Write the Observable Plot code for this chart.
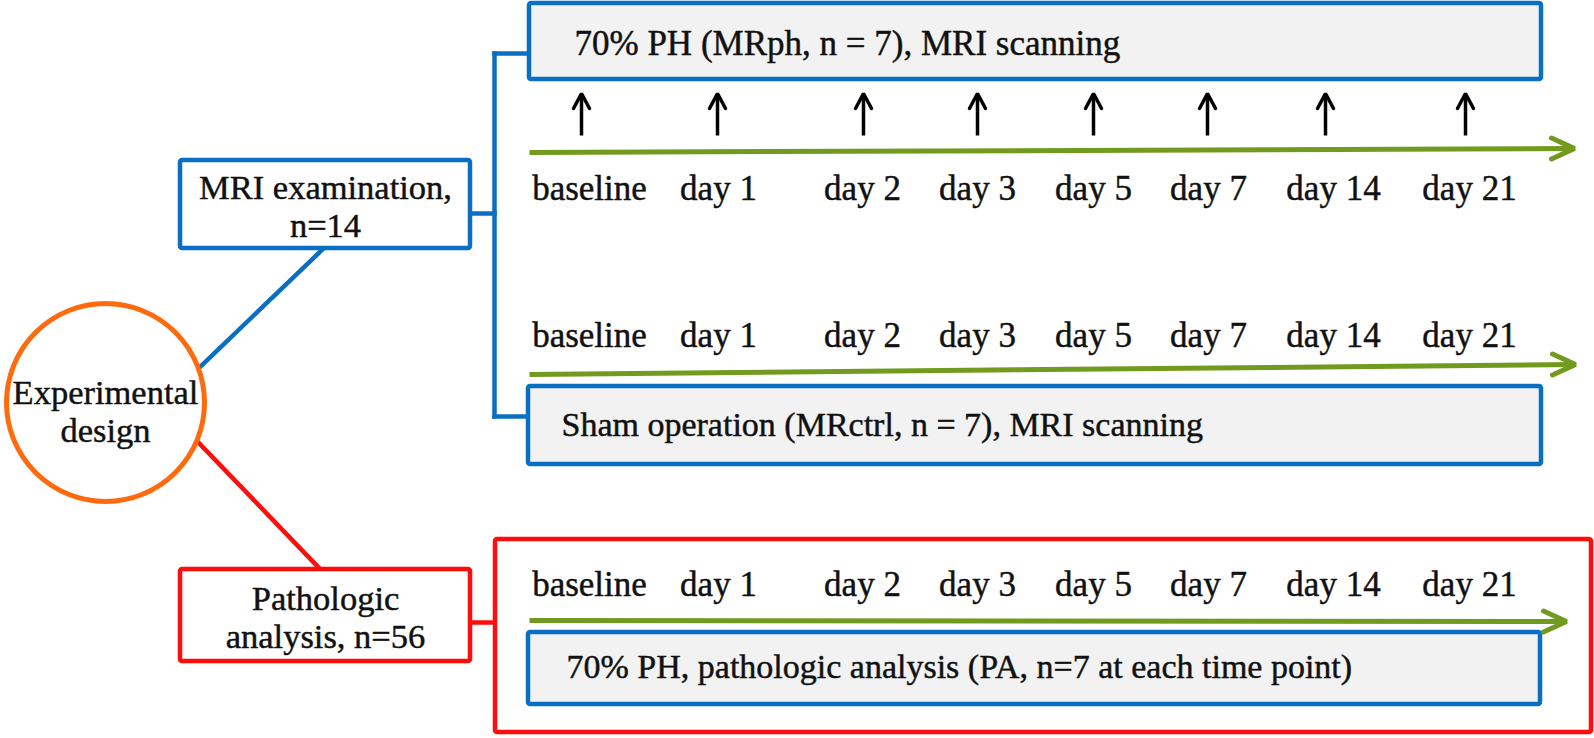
<!DOCTYPE html>
<html><head><meta charset="utf-8">
<script src="https://cdn.jsdelivr.net/npm/d3@7"></script>
<script src="https://cdn.jsdelivr.net/npm/@observablehq/plot@0.6"></script>
<style>html,body{margin:0;padding:0;background:#fff;overflow:hidden}</style>
</head><body><div id="chart"></div>
<script>
// ---- content ----
const timepoints = ["baseline", "day 1", "day 2", "day 3", "day 5", "day 7", "day 14", "day 21"];
const nodeTexts = ["Experimental\ndesign", "MRI examination,\nn=14", "Pathologic\nanalysis, n=56"];
const groupTexts = [
  "70% PH (MRph, n = 7), MRI scanning",
  "Sham operation (MRctrl, n = 7), MRI scanning",
  "70% PH, pathologic analysis (PA, n=7 at each time point)"
];

// ---- layout (pixel space of the figure) ----
const W = 1594, H = 738;
const BLUE = "#0a6fc2", RED = "#ff0c0c", ORANGE = "#ff6a0d", GREEN = "#729a1e", GREY = "#f2f2f2", INK = "#111";
const FONT = "Liberation Serif, Times New Roman, serif";
const labelX = [589, 718, 862, 977, 1093, 1208, 1333, 1469];
const arrowX = [581, 717, 863, 977, 1093, 1207, 1325, 1465];
const rowY = [188, 335, 584];

const boxes = [
  {x1: 495, x2: 1591, y1: 539, y2: 732, fill: "white", stroke: RED},
  {x1: 529, x2: 1541, y1: 3, y2: 79, fill: GREY, stroke: BLUE},
  {x1: 180, x2: 470, y1: 160, y2: 248, fill: "white", stroke: BLUE},
  {x1: 528, x2: 1541, y1: 386, y2: 464, fill: GREY, stroke: BLUE},
  {x1: 180, x2: 470, y1: 569, y2: 661, fill: "white", stroke: RED},
  {x1: 528, x2: 1540, y1: 632, y2: 704, fill: GREY, stroke: BLUE}
];
const connectors = [
  {x1: 323, y1: 248, x2: 200, y2: 366, c: BLUE},
  {x1: 198, y1: 442, x2: 320, y2: 569, c: RED},
  {x1: 470, y1: 213, x2: 494, y2: 213, c: BLUE},
  {x1: 494, y1: 53, x2: 494, y2: 416, c: BLUE},
  {x1: 494, y1: 53, x2: 529, y2: 53, c: BLUE},
  {x1: 494, y1: 416, x2: 528, y2: 416, c: BLUE},
  {x1: 470, y1: 622, x2: 495, y2: 622, c: RED}
];
const timelines = [
  {x1: 529, y1: 152, x2: 1574, y2: 148},
  {x1: 529, y1: 374, x2: 1575, y2: 364},
  {x1: 529, y1: 620, x2: 1566, y2: 621}
];
const nodePos = [{x: 105, y: 410}, {x: 325, y: 205}, {x: 325, y: 616}];
const groupPos = [{x: 574, y: 43}, {x: 561, y: 425}, {x: 566, y: 667}];
const nodeSize = 34.5, labelSize = 35, groupSizes = [35, 34, 34];

// derived tables
const labels = rowY.flatMap((y) => timepoints.map((t, i) => ({t, x: labelX[i], y})));
const shafts = arrowX.map(x => ({x, y1: 135, y2: 95}));
const heads = arrowX.flatMap((x, i) => [
  {x: x - 8, y: 108, k: i}, {x, y: 93, k: i}, {x: x + 8, y: 108, k: i}
]);
const gHeads = timelines.flatMap((d, i) => [
  {x: d.x2 - 23, y: d.y2 - 10.5, k: i}, {x: d.x2, y: d.y2, k: i}, {x: d.x2 - 23, y: d.y2 + 10.5, k: i}
]);
const nodes = nodeTexts.map((t, i) => ({t, ...nodePos[i]}));
const groups = groupTexts.map((t, i) => ({t, s: groupSizes[i], ...groupPos[i]}));

const textStyle = {fill: INK, stroke: INK, strokeWidth: 0.45, fontFamily: FONT};

const chart = Plot.plot({
  width: W, height: H,
  margin: 0,
  x: {domain: [0, W], axis: null},
  y: {domain: [0, H], reverse: true, axis: null},
  color: {type: "identity"},
  style: {background: "white", fontFamily: FONT},
  marks: [
    Plot.link(connectors, {x1: "x1", y1: "y1", x2: "x2", y2: "y2", stroke: "c", strokeWidth: 4.5, strokeLinecap: "square"}),
    Plot.dot([{x: 105, y: 402}], {x: "x", y: "y", r: 99, fill: "white", stroke: ORANGE, strokeWidth: 5}),
    Plot.rect(boxes, {x1: "x1", x2: "x2", y1: "y1", y2: "y2", fill: "fill", stroke: "stroke", strokeWidth: 4.5, rx: 2}),
    Plot.link(timelines, {x1: "x1", y1: "y1", x2: "x2", y2: "y2", stroke: GREEN, strokeWidth: 5}),
    Plot.line(gHeads, {x: "x", y: "y", z: "k", stroke: GREEN, strokeWidth: 5, strokeLinecap: "round", strokeLinejoin: "miter"}),
    Plot.link(shafts, {x1: "x", x2: "x", y1: "y1", y2: "y2", stroke: "black", strokeWidth: 3.5}),
    Plot.line(heads, {x: "x", y: "y", z: "k", stroke: "black", strokeWidth: 3.5, strokeLinejoin: "miter"}),
    Plot.text(labels, {x: "x", y: "y", text: "t", fontSize: labelSize, ...textStyle}),
    Plot.text(nodes, {x: "x", y: "y", text: "t", fontSize: nodeSize, lineHeight: 1.12, ...textStyle}),
    ...groups.map(g => Plot.text([g], {x: "x", y: "y", text: "t", fontSize: g.s, textAnchor: "start", ...textStyle}))
  ]
});
document.getElementById("chart").append(chart);
</script>
</body></html>
